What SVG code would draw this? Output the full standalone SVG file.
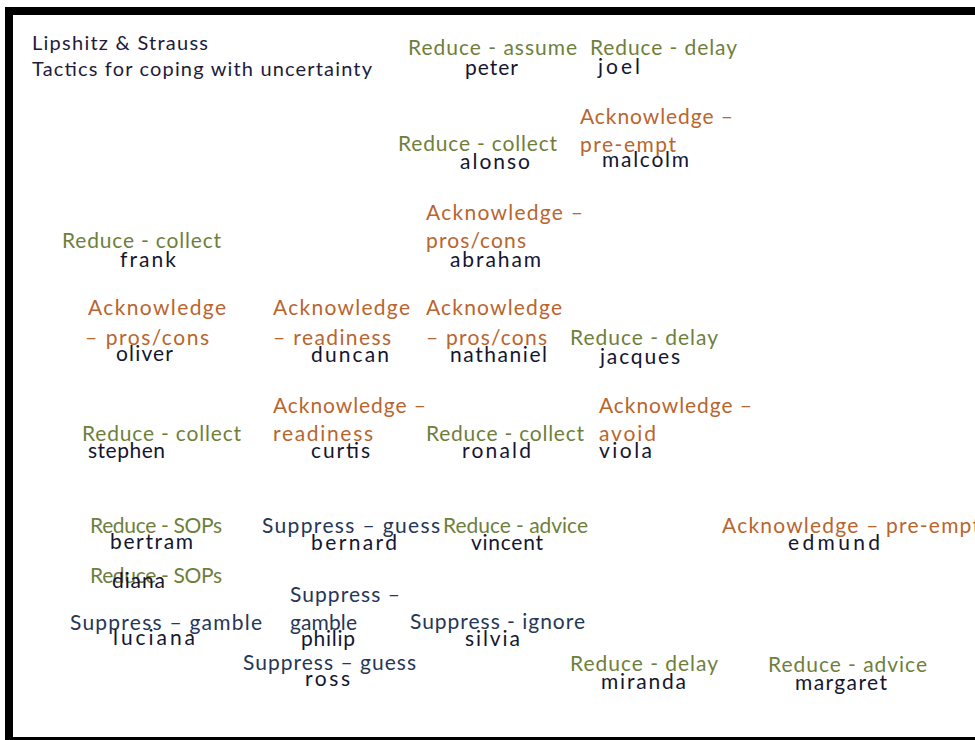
<svg xmlns="http://www.w3.org/2000/svg" width="975" height="740" viewBox="0 0 975 740">
<style>
text{font-family:Lato,"Open Sans","Liberation Sans",sans-serif;font-size:21px}
.t{fill:#1e1b3a;font-size:20px}
.g{fill:#6f7f3b}
.o{fill:#b9652e}
.s{fill:#263656}
.n{fill:#151530}
</style>
<rect x="0" y="0" width="975" height="740" fill="#fff"/>
<path d="M5 7H975V740H5Z M13 15V737H975V15Z" fill="#000" fill-rule="evenodd"/>
<g id="title">
<text class="t" x="32" y="50" textLength="176">Lipshitz &amp; Strauss</text>
<text class="t" x="32" y="76" textLength="340">Tactics for coping with uncertainty</text>
</g>
<g id="peter"><text class="g" x="408" y="55" textLength="169">Reduce - assume</text><text class="n" x="465" y="75" textLength="53">peter</text></g>
<g id="joel"><text class="g" x="590" y="55" textLength="147">Reduce - delay</text><text class="n" x="598" y="74" textLength="42">joel</text></g>
<g id="malcolm"><text class="o" x="580" y="124" textLength="153">Acknowledge –</text><text class="o" x="580" y="152" textLength="96">pre-empt</text><text class="n" x="602" y="167" textLength="87">malcolm</text></g>
<g id="alonso"><text class="g" x="398" y="151" textLength="159">Reduce - collect</text><text class="n" x="460" y="169" textLength="70">alonso</text></g>
<g id="abraham"><text class="o" x="426" y="220" textLength="157">Acknowledge –</text><text class="o" x="426" y="248" textLength="100">pros/cons</text><text class="n" x="450" y="267" textLength="91">abraham</text></g>
<g id="frank"><text class="g" x="62" y="248" textLength="159">Reduce - collect</text><text class="n" x="120" y="267" textLength="56">frank</text></g>
<g id="oliver"><text class="o" x="88" y="315" textLength="138">Acknowledge</text><text class="o" x="85" y="345" textLength="124">– pros/cons</text><text class="n" x="116" y="361" textLength="57">oliver</text></g>
<g id="duncan"><text class="o" x="273" y="315" textLength="137">Acknowledge</text><text class="o" x="273" y="345" textLength="118">– readiness</text><text class="n" x="311" y="362" textLength="78">duncan</text></g>
<g id="nathaniel"><text class="o" x="426" y="315" textLength="136">Acknowledge</text><text class="o" x="426" y="345" textLength="121">– pros/cons</text><text class="n" x="450" y="362" textLength="97">nathaniel</text></g>
<g id="jacques"><text class="g" x="570" y="345" textLength="148">Reduce - delay</text><text class="n" x="600" y="364" textLength="80">jacques</text></g>
<g id="curtis"><text class="o" x="273" y="413" textLength="153">Acknowledge –</text><text class="o" x="273" y="441" textLength="100">readiness</text><text class="n" x="311" y="458" textLength="59">curtis</text></g>
<g id="stephen"><text class="g" x="82" y="441" textLength="159">Reduce - collect</text><text class="n" x="88" y="458" textLength="77">stephen</text></g>
<g id="ronald"><text class="g" x="426" y="441" textLength="158">Reduce - collect</text><text class="n" x="462" y="458" textLength="69">ronald</text></g>
<g id="viola"><text class="o" x="599" y="413" textLength="153">Acknowledge –</text><text class="o" x="599" y="441" textLength="57">avoid</text><text class="n" x="599" y="458" textLength="53">viola</text></g>
<g id="bertram"><text class="g" x="90" y="533" textLength="132">Reduce - SOPs</text><text class="n" x="110" y="549" textLength="83">bertram</text></g>
<g id="bernard"><text class="s" x="262" y="533" textLength="178">Suppress – guess</text><text class="n" x="311" y="550" textLength="86">bernard</text></g>
<g id="vincent"><text class="g" x="443" y="533" textLength="145">Reduce - advice</text><text class="n" x="471" y="550" textLength="72">vincent</text></g>
<g id="edmund"><text class="o" x="722" y="533" textLength="258">Acknowledge – pre-empt</text><text class="n" x="788" y="550" textLength="92">edmund</text></g>
<g id="diana"><text class="g" x="90" y="583" textLength="132">Reduce - SOPs</text><text class="n" x="112" y="588" textLength="53">diana</text></g>
<g id="philip"><text class="s" x="290" y="602" textLength="110">Suppress –</text><text class="s" x="290" y="630" textLength="67">gamble</text><text class="n" x="301" y="646" textLength="54">philip</text></g>
<g id="luciana"><text class="s" x="70" y="630" textLength="192">Suppress – gamble</text><text class="n" x="113" y="645" textLength="82">luciana</text></g>
<g id="silvia"><text class="s" x="410" y="629" textLength="175">Suppress - ignore</text><text class="n" x="465" y="646" textLength="55">silvia</text></g>
<g id="ross"><text class="s" x="243" y="670" textLength="173">Suppress – guess</text><text class="n" x="305" y="686" textLength="45">ross</text></g>
<g id="miranda"><text class="g" x="570" y="671" textLength="148">Reduce - delay</text><text class="n" x="601" y="689" textLength="85">miranda</text></g>
<g id="margaret"><text class="g" x="768" y="672" textLength="159">Reduce - advice</text><text class="n" x="795" y="690" textLength="92">margaret</text></g>
</svg>
